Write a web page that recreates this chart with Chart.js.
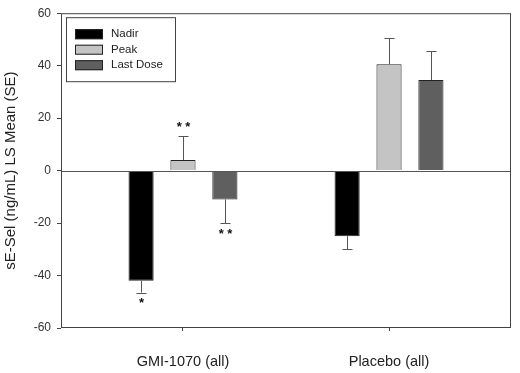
<!DOCTYPE html>
<html>
<head>
<meta charset="utf-8">
<script src="https://cdn.jsdelivr.net/npm/chart.js@4/dist/chart.umd.min.js"></script>
<style>
  html, body { margin: 0; padding: 0; background: #fff; }
  #wrap { width: 520px; height: 373px; }
</style>
</head>
<body>
<div id="wrap"><canvas id="chart" width="520" height="373"></canvas></div>
<script>
// data
const groups = ["GMI-1070 (all)", "Placebo (all)"];
const seriesNames = ["Nadir", "Peak", "Last Dose"];
const nadir = [-42, -25];
const peak = [4, 40.5];
const lastDose = [-11, 34.5];
const nadirSE = [4.5, 5];
const peakSE = [9, 10];
const lastDoseSE = [9, 11];
const nadirStars = ["*", ""];
const peakStars = ["**", ""];
const lastDoseStars = ["**", ""];
const yTicks = [-60, -40, -20, 0, 20, 40, 60];

const FONT = "'Liberation Sans', Arial, sans-serif";
const colors = ["#000000", "#c4c4c4", "#5f5f5f"];

const toPoints = (vals) => vals.map((v, i) => ({ x: i + 1, y: v }));

const datasets = [
  { label: seriesNames[0], data: toPoints(nadir), se: nadirSE, stars: nadirStars },
  { label: seriesNames[1], data: toPoints(peak), se: peakSE, stars: peakStars },
  { label: seriesNames[2], data: toPoints(lastDose), se: lastDoseSE, stars: lastDoseStars },
].map((d, i) => ({
  ...d,
  backgroundColor: colors[i],
  borderColor: "#222",
  borderWidth: 1,
  categoryPercentage: 0.61,
  barPercentage: 0.6,
}));

// frame, zero line, error bars, stars, legend box
const extras = {
  id: "extras",
  afterDatasetsDraw(chart) {
    const { ctx, chartArea: a, scales } = chart;
    const y = scales.y;
    ctx.save();
    // zero line
    ctx.strokeStyle = "#555";
    ctx.lineWidth = 1;
    ctx.beginPath();
    ctx.moveTo(a.left, Math.round(y.getPixelForValue(0)) + 0.5);
    ctx.lineTo(a.right, Math.round(y.getPixelForValue(0)) + 0.5);
    ctx.stroke();
    // box
    ctx.strokeStyle = "#444";
    ctx.strokeRect(a.left + 0.5, a.top + 0.5, a.width - 1, a.height - 1);

    chart.data.datasets.forEach((ds, di) => {
      const meta = chart.getDatasetMeta(di);
      meta.data.forEach((bar, i) => {
        const v = ds.data[i].y;
        const dir = v >= 0 ? 1 : -1;
        const yEnd = y.getPixelForValue(v + dir * ds.se[i]);
        const x = Math.round(bar.x) + 0.5;
        ctx.strokeStyle = "#555";
        ctx.lineWidth = 1;
        ctx.beginPath();
        ctx.moveTo(x, bar.y);
        ctx.lineTo(x, yEnd);
        ctx.moveTo(x - 5, Math.round(yEnd) + 0.5);
        ctx.lineTo(x + 5, Math.round(yEnd) + 0.5);
        ctx.stroke();
        if (ds.stars[i]) {
          ctx.fillStyle = "#111";
          ctx.font = "bold 13px " + FONT;
          ctx.textAlign = "center";
          ctx.textBaseline = "middle";
          const off = dir > 0 ? -9 : 11;
          ctx.fillText(ds.stars[i].split("").join(" "), x, yEnd + off);
        }
      });
    });

    // legend
    const lx = a.left + 5, ly = a.top + 4, lw = 109, lh = 64;
    ctx.fillStyle = "#fff";
    ctx.fillRect(lx, ly, lw, lh);
    ctx.strokeStyle = "#444";
    ctx.strokeRect(lx + 0.5, ly + 0.5, lw, lh);
    ctx.font = "11.5px " + FONT;
    ctx.textAlign = "left";
    ctx.textBaseline = "middle";
    chart.data.datasets.forEach((ds, di) => {
      const ry = ly + 17 + di * 15.5;
      ctx.fillStyle = ds.backgroundColor;
      ctx.fillRect(lx + 9, ry - 5, 28, 10);
      ctx.strokeStyle = "#222";
      ctx.strokeRect(lx + 9.5, ry - 4.5, 27, 9);
      ctx.fillStyle = "#222";
      ctx.fillText(ds.label, lx + 45, ry);
    });
    ctx.restore();
  }
};

new Chart(document.getElementById("chart"), {
  type: "bar",
  data: { datasets },
  options: {
    responsive: false,
    animation: false,
    layout: { padding: { top: 13, right: 9, left: 0, bottom: 0 } },
    plugins: { legend: { display: false }, tooltip: { enabled: false } },
    scales: {
      x: {
        type: "linear",
        offset: false,
        min: 0.408,
        max: 2.592,
        grid: { drawOnChartArea: false, drawTicks: true, tickLength: 3, color: "#444", offset: false },
        border: { display: false },
        afterBuildTicks: (s) => { s.ticks = groups.map((g, i) => ({ value: i + 1 })); },
        afterFit: (s) => { s.height = 45; },
        ticks: {
          padding: 22,
          color: "#222",
          font: { family: FONT, size: 14.5 },
          callback: (v) => groups[v - 1] || "",
        },
      },
      y: {
        min: -60,
        max: 60,
        grid: { drawOnChartArea: false, drawTicks: true, tickLength: 4, color: "#444" },
        border: { display: false },
        afterBuildTicks: (s) => { s.ticks = yTicks.map((v) => ({ value: v })); },
        afterFit: (s) => { s.width = 61; },
        ticks: { padding: 6, color: "#333", font: { family: FONT, size: 12 } },
        title: {
          display: true,
          text: "sE-Sel (ng/mL) LS Mean (SE)",
          color: "#222",
          padding: { top: 2, bottom: 0 },
          font: { family: FONT, size: 15 },
        },
      },
    },
  },
  plugins: [extras],
});
</script>
</body>
</html>
